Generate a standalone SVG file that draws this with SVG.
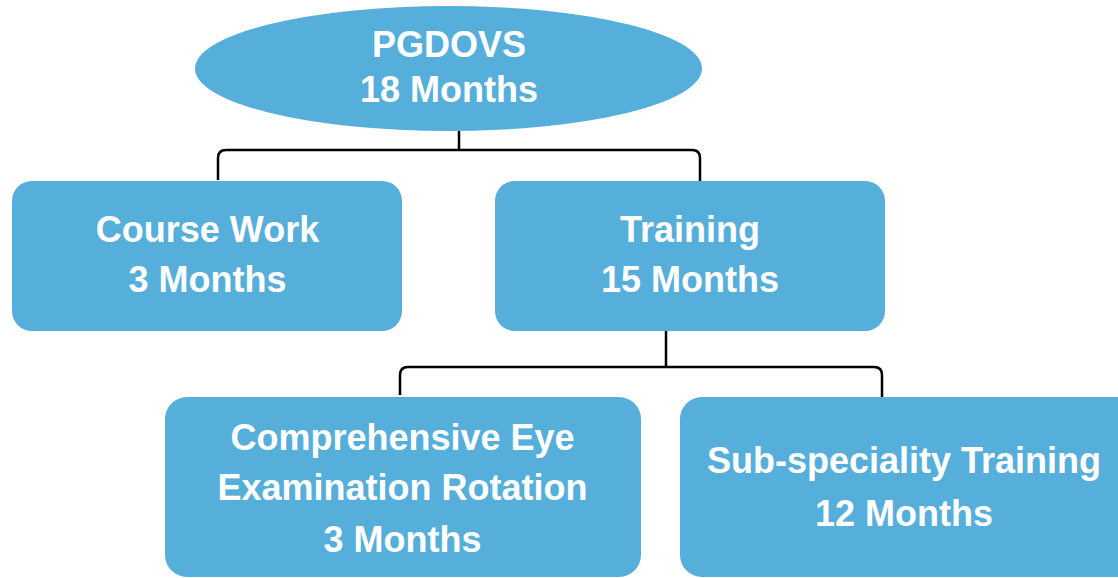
<svg xmlns="http://www.w3.org/2000/svg" width="1118" height="578" viewBox="0 0 1118 578">
<style>
.n{fill:#56AFDB;}
.t{font-family:"Liberation Sans",Arial,sans-serif;font-weight:bold;font-size:36px;fill:#FFFFFF;text-anchor:middle;}
.c{fill:none;stroke:#000000;stroke-width:2.5;stroke-linejoin:round;}
</style>
<rect width="1118" height="578" fill="#FFFFFF"/>
<g id="connectors">
<path class="c" d="M459,131 V150"/>
<path class="c" d="M218,180 V158 Q218,150 226,150 H692 Q700,150 700,158 V181"/>
<path class="c" d="M666,331 V367"/>
<path class="c" d="M400,395 V375 Q400,367 408,367 H874 Q882,367 882,375 V397"/>
</g>
<g id="pgdovs">
<ellipse class="n" cx="448.5" cy="68.5" rx="253.5" ry="62.5"/>
<text class="t" x="449" y="57">PGDOVS</text>
<text class="t" x="449" y="102">18 Months</text>
</g>
<g id="coursework">
<rect class="n" x="12" y="181" width="390" height="150" rx="20" ry="20"/>
<text class="t" x="207.5" y="242">Course Work</text>
<text class="t" x="207.5" y="292">3 Months</text>
</g>
<g id="training">
<rect class="n" x="495" y="181" width="390" height="150" rx="20" ry="20"/>
<text class="t" x="690" y="242">Training</text>
<text class="t" x="690" y="292">15 Months</text>
</g>
<g id="comprehensive">
<rect class="n" x="165" y="397" width="476" height="180" rx="22" ry="22"/>
<text class="t" x="402.5" y="450">Comprehensive Eye</text>
<text class="t" x="402.5" y="500">Examination Rotation</text>
<text class="t" x="402.5" y="552">3 Months</text>
</g>
<g id="subspeciality">
<rect class="n" x="680" y="397" width="460" height="180" rx="22" ry="22"/>
<text class="t" x="904" y="473">Sub-speciality Training</text>
<text class="t" x="904" y="526">12 Months</text>
</g>
</svg>
